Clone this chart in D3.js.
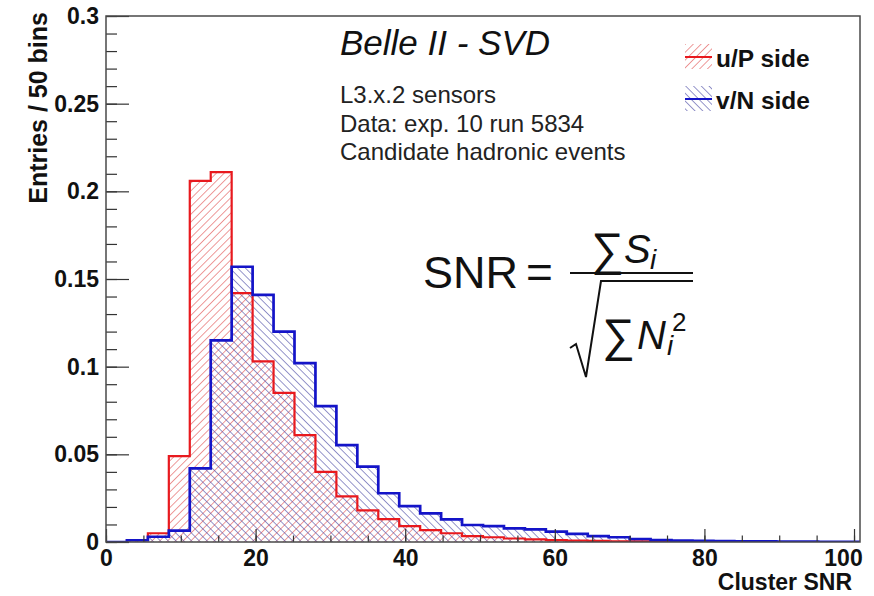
<!DOCTYPE html>
<html>
<head>
<meta charset="utf-8">
<script src="https://cdn.jsdelivr.net/npm/d3@7"></script>
<style>
  body { margin: 0; background: #fff; }
  text { font-family: "Liberation Sans", Arial, sans-serif; }
</style>
</head>
<body>
<svg id="chart" width="874" height="596"></svg>
<script>
// histogram contents, 2.8 wide bins starting at 0 (normalised)
var binWidth = 2.8;
var uSide = [0, 0.001, 0.005, 0.049, 0.206, 0.211, 0.142, 0.103, 0.085, 0.061,
  0.040, 0.026, 0.018, 0.013, 0.009, 0.0068, 0.005, 0.0034, 0.0027, 0.002,
  0.0015, 0.0011, 0.0008, 0.0006, 0.0004, 0.0003, 0.0002, 0.0001, 0.0001, 0,
  0, 0, 0, 0, 0, 0];
var vSide = [0, 0.001, 0.003, 0.0065, 0.042, 0.115, 0.157, 0.141, 0.120, 0.102,
  0.0775, 0.0553, 0.043, 0.0278, 0.0205, 0.0163, 0.0129, 0.0097, 0.009, 0.0078,
  0.0072, 0.0059, 0.0046, 0.0034, 0.0027, 0.0017, 0.0011, 0.0008, 0.0006, 0.0005,
  0.0004, 0.0003, 0.0002, 0.0002, 0.0001, 0.0001];
var xTicks = [0, 20, 40, 60, 80, 100];
var yTicks = [0, 0.05, 0.1, 0.15, 0.2, 0.25, 0.3];
var yLabels = ["0", "0.05", "0.1", "0.15", "0.2", "0.25", "0.3"];
var infoLines = ["L3.x.2 sensors", "Data: exp. 10 run 5834", "Candidate hadronic events"];
var legendNames = ["u/P side", "v/N side"];

var svg = d3.select('#chart');
var frameL = 106, frameR = 860, frameT = 16, frameB = 542;

var x = d3.scaleLinear().domain([0, uSide.length * binWidth]).range([frameL, frameR]);
var y = d3.scaleLinear().domain([0, 0.3]).range([frameB, frameT]);

// hatch patterns
var defs = svg.append('defs');
function hatch(id, angle, color) {
  var p = defs.append('pattern').attr('id', id)
    .attr('patternUnits', 'userSpaceOnUse')
    .attr('width', 5.5).attr('height', 5.5)
    .attr('patternTransform', 'rotate(' + angle + ')');
  p.append('line').attr('x1', 0).attr('y1', 0).attr('x2', 0).attr('y2', 5.5)
    .attr('stroke', color).attr('stroke-width', 1.15);
}
hatch('hatchRed', 45, '#e05050');
hatch('hatchBlue', -45, '#4848a4');

defs.append('clipPath').attr('id', 'frameClip')
  .append('rect').attr('x', frameL).attr('y', frameT)
  .attr('width', frameR - frameL).attr('height', frameB - frameT);

function steps(values) {
  var pts = values.map(function(v, i) { return {x0: i * binWidth, v: v}; });
  pts.push({x0: values.length * binWidth, v: values[values.length - 1]});
  return pts;
}
var area = d3.area().curve(d3.curveStepAfter)
  .x(function(d) { return x(d.x0); })
  .y0(y(0))
  .y1(function(d) { return y(d.v); });
var line = d3.line().curve(d3.curveStepAfter)
  .x(function(d) { return x(d.x0); })
  .y(function(d) { return y(d.v); });

var plot = svg.append('g').attr('clip-path', 'url(#frameClip)');
var hists = [
  {values: uSide, fill: 'url(#hatchRed)', color: '#e8191e', width: 2.2},
  {values: vSide, fill: 'url(#hatchBlue)', color: '#1414c8', width: 2.7}
];
hists.forEach(function(h) {
  plot.append('path').attr('d', area(steps(h.values))).attr('fill', h.fill);
});
hists.forEach(function(h) {
  plot.append('path').attr('d', line(steps(h.values)))
    .attr('fill', 'none').attr('stroke', h.color).attr('stroke-width', h.width);
});

// axes
var yMinor = svg.append('g').attr('transform', 'translate(' + frameL + ',0)')
  .call(d3.axisLeft(y).tickValues(d3.range(0, 31).map(function(i) { return i / 100; }))
    .tickSize(-11).tickFormat(''));
var yAxis = svg.append('g').attr('transform', 'translate(' + frameL + ',0)')
  .call(d3.axisLeft(y).tickValues(yTicks).tickSize(-23).tickPadding(7)
    .tickFormat(function(d, i) { return yLabels[i]; }));
var xMinor = svg.append('g').attr('transform', 'translate(0,' + frameB + ')')
  .call(d3.axisBottom(x).tickValues(d3.range(0, 21).map(function(i) { return i * 5; }))
    .tickSize(-6.5).tickFormat(''));
var xAxis = svg.append('g').attr('transform', 'translate(0,' + frameB + ')')
  .call(d3.axisBottom(x).tickValues(xTicks).tickSize(-13).tickPadding(8));

[yMinor, yAxis, xMinor, xAxis].forEach(function(g) {
  g.select('.domain').remove();
  g.selectAll('line').attr('stroke', '#333').attr('stroke-width', 1.2);
  g.selectAll('text').attr('font-family', '"Liberation Sans", Arial, sans-serif')
    .attr('font-weight', 'bold').attr('fill', '#111');
});
yAxis.selectAll('text').attr('font-size', 23);
xAxis.selectAll('text').attr('font-size', 23);
xAxis.selectAll('.tick').filter(function(d) { return d === 100; })
  .select('text').attr('dx', -11);

svg.append('rect').attr('x', frameL).attr('y', frameT)
  .attr('width', frameR - frameL).attr('height', frameB - frameT)
  .attr('fill', 'none').attr('stroke', '#4a4a4a').attr('stroke-width', 1.5);

// axis titles
svg.append('text').attr('transform', 'translate(47,' + (frameT - 4) + ') rotate(-90)')
  .attr('text-anchor', 'end').attr('font-weight', 'bold').attr('font-size', 25)
  .attr('fill', '#111').text('Entries / 50 bins');
svg.append('text').attr('x', frameR - 8).attr('y', 590)
  .attr('text-anchor', 'end').attr('font-weight', 'bold').attr('font-size', 23)
  .attr('fill', '#111').text('Cluster SNR');

// labels
svg.append('text').attr('x', 340).attr('y', 55).attr('font-style', 'italic')
  .attr('font-size', 35).attr('fill', '#111').text('Belle II - SVD');
svg.selectAll('.info').data(infoLines).enter().append('text')
  .attr('x', 340).attr('y', function(d, i) { return 103 + i * 28.5; })
  .attr('font-size', 24).attr('fill', '#222').text(function(d) { return d; });

// legend
var leg = svg.selectAll('.leg').data(legendNames).enter().append('g')
  .attr('transform', function(d, i) { return 'translate(685,' + (44 + i * 42) + ')'; });
leg.append('rect').attr('width', 27).attr('height', 25)
  .attr('fill', function(d, i) { return hists[i].fill; });
leg.append('line').attr('x1', 0).attr('x2', 27).attr('y1', 13).attr('y2', 13)
  .attr('stroke', function(d, i) { return hists[i].color; }).attr('stroke-width', 2);
leg.append('text').attr('x', 31).attr('y', 23).attr('font-weight', 'bold')
  .attr('font-size', 24.5).attr('fill', '#111').text(function(d) { return d; });

// formula
var f = svg.append('g');
f.append('text').attr('x', 423).attr('y', 288).attr('font-family', 'Lato, sans-serif')
  .attr('font-size', 45).attr('fill', '#111').text('SNR');
f.append('text').attr('x', 526).attr('y', 288).attr('font-family', 'Lato, sans-serif')
  .attr('font-size', 46).attr('fill', '#111').text('=');
f.append('line').attr('x1', 570).attr('x2', 693).attr('y1', 273).attr('y2', 273)
  .attr('stroke', '#111').attr('stroke-width', 2);
var mathFont = '"Liberation Serif", "DejaVu Serif", serif';
f.append('text').attr('x', 591).attr('y', 265).attr('font-family', mathFont)
  .attr('font-size', 46).attr('fill', '#111').text('\u2211');
f.append('text').attr('x', 624).attr('y', 263).attr('font-family', mathFont)
  .attr('font-style', 'italic').attr('font-size', 40).attr('fill', '#111').text('S');
f.append('text').attr('x', 650).attr('y', 269).attr('font-family', mathFont)
  .attr('font-style', 'italic').attr('font-size', 28).attr('fill', '#111').text('i');
f.append('path').attr('d', 'M570,348 L576,344 L586,377 L601,281 L693,281')
  .attr('fill', 'none').attr('stroke', '#111').attr('stroke-width', 2);
f.append('text').attr('x', 602).attr('y', 351).attr('font-family', mathFont)
  .attr('font-size', 46).attr('fill', '#111').text('\u2211');
f.append('text').attr('x', 637).attr('y', 349).attr('font-family', mathFont)
  .attr('font-style', 'italic').attr('font-size', 40).attr('fill', '#111').text('N');
f.append('text').attr('x', 667).attr('y', 355).attr('font-family', mathFont)
  .attr('font-style', 'italic').attr('font-size', 28).attr('fill', '#111').text('i');
f.append('text').attr('x', 672).attr('y', 331).attr('font-family', mathFont)
  .attr('font-size', 26).attr('fill', '#111').text('2');
</script>
</body>
</html>
